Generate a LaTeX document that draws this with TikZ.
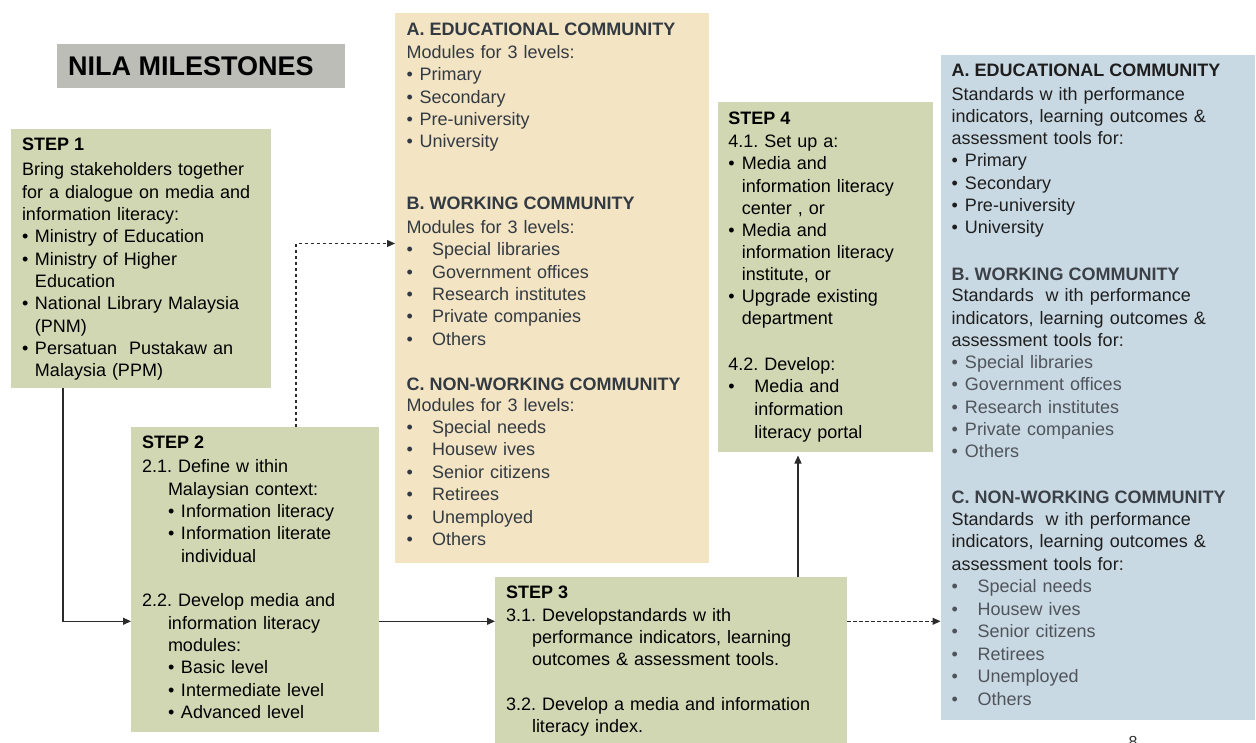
\documentclass[tikz,border=0pt]{standalone}
\usepackage{fontspec}
\setmainfont{Liberation Sans}
\usetikzlibrary{arrows.meta,calc}
\definecolor{gboxc}{HTML}{D2D7B3}
\definecolor{tboxc}{HTML}{F3E4C3}
\definecolor{bboxc}{HTML}{C9D9E4}
\definecolor{tbarc}{HTML}{BDBDB8}
\definecolor{ttext}{HTML}{333A42}
\definecolor{gtext}{HTML}{4F545B}
\definecolor{htext}{HTML}{3C4148}
\definecolor{btext}{HTML}{1E1E1E}
\definecolor{linec}{HTML}{2B2B2B}
\setlength{\parskip}{0pt}
\frenchspacing
\newcommand\bl[3]{\par{\leftskip=#1\relax\hangindent=#2\relax\hangafter=1\noindent\makebox[#2][l]{\textbullet}#3\par}}
\newcommand\gl[3]{\par{\color{gtext}\leftskip=#1\relax\hangindent=#2\relax\hangafter=1\noindent\makebox[#2][l]{\textbullet}#3\par}}
\newcommand\hgi[1]{\hangindent=#1\relax\hangafter=1\relax}
\tikzset{
  boxs/.style={anchor=north west, inner sep=0pt, outer sep=0pt, draw=none},
  txt/.style={anchor=base west, inner sep=0pt, outer sep=0pt, text width=330pt, align=left, font=\fontsize{18}{#1}\selectfont},
  txt/.default=22.4,
  hdr/.style={anchor=base west, inner sep=0pt, outer sep=0pt, font=\bfseries\fontsize{18}{22}\selectfont},
  arr/.style={-{Triangle[length=8pt,width=7pt]}, line width=1.2pt, draw=linec},
  darr/.style={arr, dash pattern=on 3.5pt off 2.5pt}
}
\begin{document}
\begin{tikzpicture}[x=1pt,y=-1pt]
\useasboundingbox (0,0) rectangle (1256,742);
\fill[white] (0,0) rectangle (1256,742);

% title
\node[boxs, fill=tbarc, minimum width=288pt, minimum height=44pt] (title) at (57,44) {};
\node[anchor=base west, inner sep=0pt, font=\bfseries\fontsize{27}{30}\selectfont] (titlet) at (68,75.7) {NILA MILESTONES};

% boxes
\node[boxs, fill=gboxc, minimum width=260pt, minimum height=259pt] (s1) at (11,129) {};
\node[boxs, fill=gboxc, minimum width=248pt, minimum height=305pt] (s2) at (131,427) {};
\node[boxs, fill=tboxc, minimum width=314pt, minimum height=550pt] (tan) at (395,13) {};
\node[boxs, fill=gboxc, minimum width=215pt, minimum height=350pt] (s4) at (717.5,101.5) {};
\node[boxs, fill=gboxc, minimum width=352pt, minimum height=170pt] (s3) at (495,577) {};
\node[boxs, fill=bboxc, minimum width=314pt, minimum height=665pt] (bb) at (940.5,55) {};

% step 1
\node[hdr] (s1h) at (22,150.7) {STEP 1};
\node[txt=22.33] (s1b) at (22,175.7) {Bring stakeholders together\newline for a dialogue on media and\newline information literacy:
\bl{0pt}{13pt}{Ministry of Education}
\bl{0pt}{13pt}{Ministry of Higher\newline Education}
\bl{0pt}{13pt}{National Library Malaysia\newline (PNM)}
\bl{0pt}{13pt}{Persatuan\ \ Pustakaw an\newline Malaysia (PPM)}};

% step 2
\node[hdr] (s2h) at (142,448.3) {STEP 2};
\node[txt] (s2a) at (142,472.7) {\hgi{26pt}2.1. Define w ithin\newline Malaysian context:
\bl{26pt}{13pt}{Information literacy}
\bl{26pt}{13pt}{Information literate\newline individual}};
\node[txt] (s2b) at (142,606.7) {\hgi{26pt}2.2. Develop media and\newline information literacy\newline modules:
\bl{26pt}{13pt}{Basic level}
\bl{26pt}{13pt}{Intermediate level}
\bl{26pt}{13pt}{Advanced level}};

% tan box
\node[hdr, text=ttext] (tah) at (406.7,35) {A. EDUCATIONAL COMMUNITY};
\node[txt, text=ttext] (tab) at (406.7,58.3) {Modules for 3 levels:
\bl{0pt}{13pt}{Primary}
\bl{0pt}{13pt}{Secondary}
\bl{0pt}{13pt}{Pre-university}
\bl{0pt}{13pt}{University}};
\node[hdr, text=ttext] (tbh) at (406.7,209.3) {B. WORKING COMMUNITY};
\node[txt, text=ttext] (tbb) at (406.7,233.3) {Modules for 3 levels:
\bl{0pt}{25.5pt}{Special libraries}
\bl{0pt}{25.5pt}{Government offices}
\bl{0pt}{25.5pt}{Research institutes}
\bl{0pt}{25.5pt}{Private companies}
\bl{0pt}{25.5pt}{Others}};
\node[hdr, text=ttext] (tch) at (406.7,390) {C. NON-WORKING COMMUNITY};
\node[txt, text=ttext] (tcb) at (406.7,411) {Modules for 3 levels:
\bl{0pt}{25.5pt}{Special needs}
\bl{0pt}{25.5pt}{Housew ives}
\bl{0pt}{25.5pt}{Senior citizens}
\bl{0pt}{25.5pt}{Retirees}
\bl{0pt}{25.5pt}{Unemployed}
\bl{0pt}{25.5pt}{Others}};

% step 4
\node[hdr] (s4h) at (728.3,124) {STEP 4};
\node[txt=22.16] (s4a) at (728.3,147.7) {4.1. Set up a:
\bl{0pt}{13.5pt}{Media and\newline information literacy\newline center , or}
\bl{0pt}{13.5pt}{Media and\newline information literacy\newline institute, or}
\bl{0pt}{13.5pt}{Upgrade existing\newline department}};
\node[txt=22.7] (s4b) at (728.3,370) {4.2. Develop:
\bl{0pt}{26pt}{Media and\newline information\newline literacy portal}};

% step 3
\node[hdr] (s3h) at (506,598.3) {STEP 3};
\node[txt=21.8] (s3a) at (506,621.7) {\hgi{26pt}3.1. Developstandards w ith\newline performance indicators, learning\newline outcomes \& assessment tools.\par};
\node[txt=21.6] (s3b) at (506,710.7) {\hgi{26pt}3.2. Develop a media and information\newline literacy index.\par};

% blue box
\node[hdr, text=btext] (bah) at (951.7,76.7) {A. EDUCATIONAL COMMUNITY};
\node[txt=22.3, text=btext] (bab) at (951.7,100) {Standards w ith performance\newline indicators, learning outcomes \&\newline assessment tools for:
\bl{0pt}{13.3pt}{Primary}
\bl{0pt}{13.3pt}{Secondary}
\bl{0pt}{13.3pt}{Pre-university}
\bl{0pt}{13.3pt}{University}};
\node[hdr, text=htext] (bbh) at (951.7,280) {B. WORKING COMMUNITY};
\node[txt=22.3, text=btext] (bbb) at (951.7,301.7) {Standards\ \ w ith performance\newline indicators, learning outcomes \&\newline assessment tools for:
\gl{0pt}{13.3pt}{Special libraries}
\gl{0pt}{13.3pt}{Government offices}
\gl{0pt}{13.3pt}{Research institutes}
\gl{0pt}{13.3pt}{Private companies}
\gl{0pt}{13.3pt}{Others}};
\node[hdr, text=htext] (bch) at (951.7,503.3) {C. NON-WORKING COMMUNITY};
\node[txt=22.5, text=btext] (bcb) at (951.7,525) {Standards\ \ w ith performance\newline indicators, learning outcomes \&\newline assessment tools for:
\gl{0pt}{26pt}{Special needs}
\gl{0pt}{26pt}{Housew ives}
\gl{0pt}{26pt}{Senior citizens}
\gl{0pt}{26pt}{Retirees}
\gl{0pt}{26pt}{Unemployed}
\gl{0pt}{26pt}{Others}};

% page number (cut off at the lower edge, as in the reference)
\node[anchor=north, inner sep=0pt, font=\fontsize{16}{18}\selectfont, text=black!80] (pg) at (1133,736.5) {8};

% connectors
\coordinate (a1) at ($(s1.south west)+(52,0)$);
\coordinate (y1) at ($(s2.north west)!0.637!(s2.south west)$);
\coordinate (y2) at ($(s2.north east)!0.637!(s2.south east)$);
\coordinate (a2) at ($(s2.north west)+(165,0)$);
\coordinate (y3) at (0,243.5);
\coordinate (a3) at ($(s3.north west)+(303,0)$);
\draw[arr] (a1) |- (y1);
\draw[arr] (y2) -- (s3.west |- y2);
\draw[darr] (a2) |- (tan.west |- y3);
\draw[arr, shorten >=4pt] (a3) -- (a3 |- s4.south);
\draw[darr] (s3.east |- y2) -- (bb.west |- y2);
\end{tikzpicture}
\end{document}
